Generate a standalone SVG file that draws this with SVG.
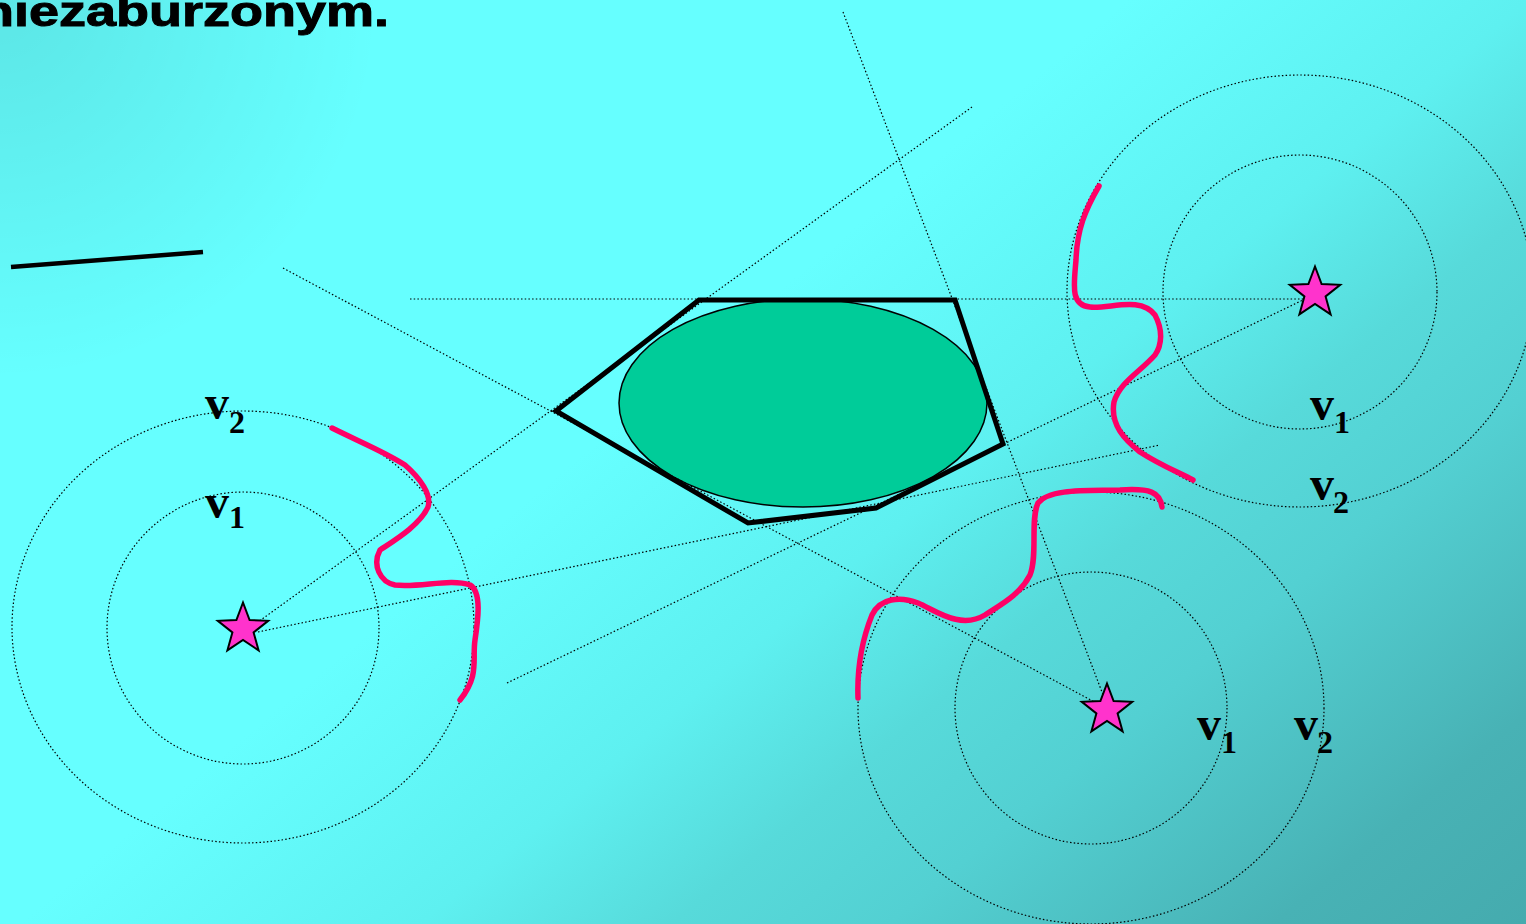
<svg xmlns="http://www.w3.org/2000/svg" width="1526" height="924" viewBox="0 0 1526 924">
<defs>
<linearGradient id="bg" x1="600" y1="300" x2="1286" y2="1123" gradientUnits="userSpaceOnUse">
<stop offset="0" stop-color="#66FFFF"/>
<stop offset="0.1" stop-color="#66FFFF"/>
<stop offset="0.34" stop-color="#5EF0F0"/>
<stop offset="0.49" stop-color="#57DADA"/>
<stop offset="0.62" stop-color="#53D0D2"/>
<stop offset="0.85" stop-color="#48B2B5"/>
<stop offset="1" stop-color="#45ABAE"/>
</linearGradient>
<radialGradient id="corner" cx="0" cy="0" r="380" gradientUnits="userSpaceOnUse">
<stop offset="0" stop-color="#000" stop-opacity="0.1"/>
<stop offset="1" stop-color="#000" stop-opacity="0"/>
</radialGradient>
<polygon id="star" points="0,-26.5 6.6,-9 25.2,-8.2 10.6,3.4 15.6,21.4 0,11 -15.6,21.4 -10.6,3.4 -25.2,-8.2 -6.6,-9"/>
</defs>
<style>
.dot{fill:none;stroke:#000;stroke-width:1.2;stroke-dasharray:1.5 2.2}
.pink{fill:none;stroke:#FF0066;stroke-width:5.5;stroke-linecap:round;stroke-linejoin:round}
.star{fill:#FF33CC;stroke:#000;stroke-width:2;stroke-linejoin:miter}
.v{font-family:"Liberation Serif",serif;font-weight:bold;font-size:48px;fill:#000}
.s{font-family:"Liberation Serif",serif;font-weight:bold;font-size:32px;fill:#000}
</style>
<rect width="1526" height="924" fill="url(#bg)"/>
<rect width="1526" height="924" fill="url(#corner)"/>
<text x="-19" y="26" font-family="Liberation Sans, Arial, sans-serif" font-weight="bold" font-size="43" stroke="#000" stroke-width="1" textLength="408" lengthAdjust="spacingAndGlyphs">niezaburzonym.</text>
<line x1="11" y1="267" x2="203" y2="252" stroke="#000" stroke-width="4.5"/>

<g id="circles">
<ellipse class="dot" cx="243" cy="628" rx="136" ry="136"/>
<ellipse class="dot" cx="243" cy="627" rx="231" ry="216"/>
<ellipse class="dot" cx="1300" cy="292" rx="137" ry="137"/>
<ellipse class="dot" cx="1300" cy="291" rx="233" ry="216"/>
<ellipse class="dot" cx="1091" cy="708" rx="136" ry="136"/>
<ellipse class="dot" cx="1091" cy="708" rx="233" ry="216"/>
</g>

<g id="obstacle">
<ellipse cx="803" cy="403" rx="184" ry="104" fill="#00CC99" stroke="#000" stroke-width="1.5"/>
<polygon points="699,300 955,300 1003,444 876,508 748,523 556,411" fill="none" stroke="#000" stroke-width="5" stroke-linejoin="miter"/>
</g>

<g id="connectors">
<line class="dot" x1="410" y1="299" x2="1322" y2="299"/>
<line class="dot" x1="283" y1="268" x2="1102" y2="706"/>
<line class="dot" x1="843" y1="12" x2="1105" y2="700"/>
<line class="dot" x1="972" y1="107" x2="258" y2="622"/>
<line class="dot" x1="258" y1="632" x2="1160" y2="445"/>
<line class="dot" x1="507" y1="683" x2="1303" y2="300"/>
</g>

<g id="curves">
<path class="pink" d="M332,428 C360,442 385,452 405,465 C420,478 432,495 428,507 C420,525 395,540 380,550 C372,565 380,582 395,585 C420,588 450,578 470,585 C482,592 478,620 475,640 C472,660 480,675 460,700"/>
<path class="pink" d="M1099,186 C1085,210 1077,230 1076,260 C1074,285 1070,305 1090,307 C1110,309 1140,296 1155,315 C1163,330 1162,345 1155,355 C1140,372 1120,382 1114,402 C1110,425 1125,440 1140,452 C1160,465 1180,473 1193,480"/>
<path class="pink" d="M1162,507 C1160,492 1150,488 1120,490 C1090,491 1050,488 1038,503 C1030,520 1038,555 1030,575 C1020,595 1000,605 985,615 C960,630 935,610 918,603 C900,596 880,598 872,615 C862,640 857,670 858,698"/>
</g>

<g id="star-left"><use href="#star" class="star" transform="translate(243,629)"/></g>
<g id="star-right"><use href="#star" class="star" transform="translate(1315,293)"/></g>
<g id="star-bottom"><use href="#star" class="star" transform="translate(1107,710)"/></g>

<g id="labels">
<text class="v" x="205" y="419">v</text><text class="s" x="229" y="433">2</text>
<text class="v" x="205" y="518">v</text><text class="s" x="229" y="528">1</text>
<text class="v" x="1310" y="420">v</text><text class="s" x="1334" y="433">1</text>
<text class="v" x="1310" y="500">v</text><text class="s" x="1333" y="513">2</text>
<text class="v" x="1197" y="740">v</text><text class="s" x="1221" y="753">1</text>
<text class="v" x="1294" y="740">v</text><text class="s" x="1317" y="753">2</text>
</g>
</svg>
